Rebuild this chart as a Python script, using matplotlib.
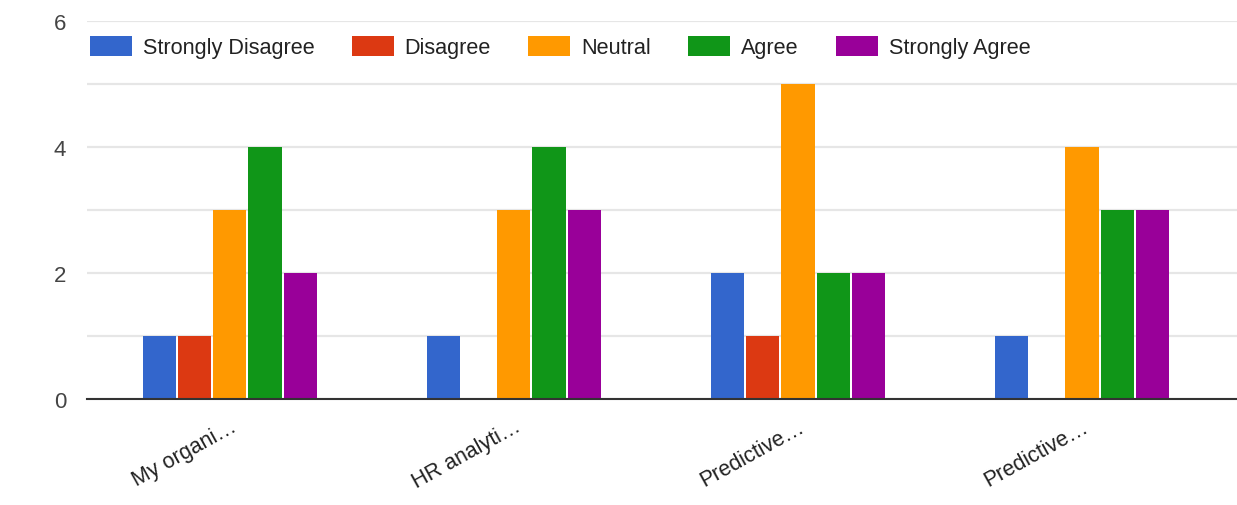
"""Grouped bar chart: Likert responses per statement."""
import matplotlib.pyplot as plt
import numpy as np

plt.rcParams["font.family"] = ["Liberation Sans", "DejaVu Sans"]

CATEGORIES = ["My organi…", "HR analyti…", "Predictive…", "Predictive…"]
SERIES = ["Strongly Disagree", "Disagree", "Neutral", "Agree", "Strongly Agree"]
STRONGLY_DISAGREE = [1, 1, 2, 1]
DISAGREE = [1, 0, 1, 0]
NEUTRAL = [3, 3, 5, 4]
AGREE = [4, 4, 2, 3]
STRONGLY_AGREE = [2, 3, 2, 3]
COLORS = ["#3366cc", "#dc3912", "#ff9900", "#109618", "#990099"]
YTICKS = [0, 2, 4, 6]


def main() -> None:
    values = [STRONGLY_DISAGREE, DISAGREE, NEUTRAL, AGREE, STRONGLY_AGREE]
    fig = plt.figure(figsize=(12.37, 5.06), dpi=100)
    ax = fig.add_axes([87 / 1237, 106 / 506, 1 - 87 / 1237, 378 / 506])

    x = np.arange(len(CATEGORIES))
    step = 0.124
    width = 0.117
    for i, (name, vals, col) in enumerate(zip(SERIES, values, COLORS)):
        ax.bar(x + (i - 2) * step, vals, width, color=col, label=name, zorder=3)

    ax.set_xlim(-0.503, 3.546)
    ax.set_ylim(0, 6)
    ax.set_yticks(YTICKS)
    ax.set_yticks([1, 3, 5], minor=True)
    ax.grid(axis="y", which="both", color="#e6e6e6", lw=1.6, zorder=0)
    ax.tick_params(axis="y", which="both", length=0, pad=15, labelsize=16, labelcolor="#444444")
    ax.set_xticks(x)
    ax.set_xticklabels(CATEGORIES, rotation=29, ha="right", rotation_mode="anchor",
                       fontsize=15.5, color="#222222")
    ax.tick_params(axis="x", length=0, pad=12)
    for side in ["top", "right", "left"]:
        ax.spines[side].set_visible(False)
    ax.spines["bottom"].set_color("#333333")
    ax.spines["bottom"].set_linewidth(1.5)
    ax.spines["bottom"].set_zorder(4)

    leg = ax.legend(loc="center left", bbox_to_anchor=(3 / 1150, 1 - 26 / 378), ncol=5, frameon=False,
                    fontsize=15.6, handlelength=1.94, handleheight=1.02, handletextpad=0.5,
                    columnspacing=1.72, borderaxespad=0, borderpad=0)
    for t in leg.get_texts():
        t.set_color("#222222")

    fig.savefig("out.png", dpi=100)
    plt.close(fig)


if __name__ == "__main__":
    main()
